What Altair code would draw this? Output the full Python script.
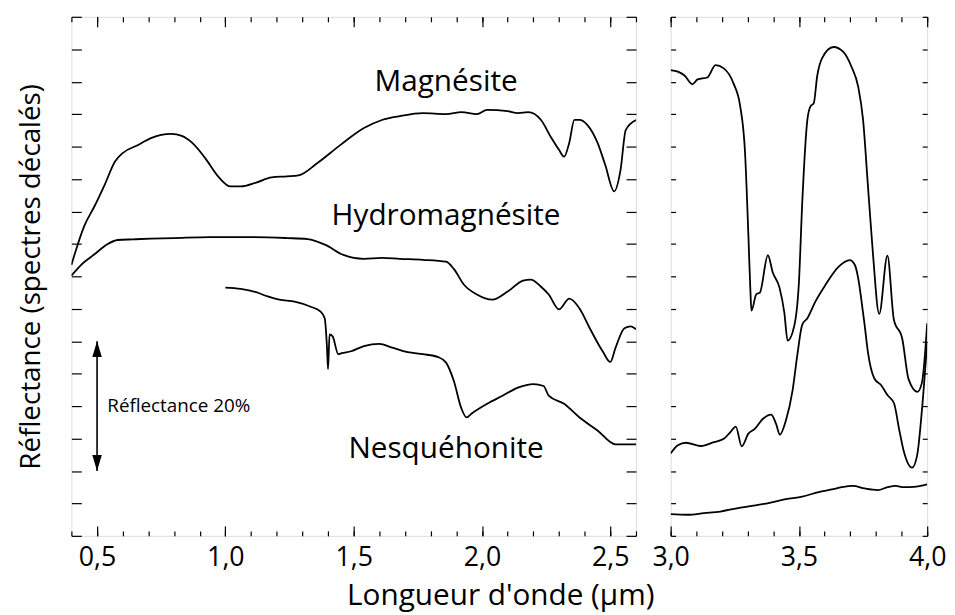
import altair as alt
import pandas as pd

# ---------------- data ----------------
# y is in "offset reflectance" units: one tick = 5 % reflectance
mag_left_x = [0.40, 0.45, 0.49, 0.53, 0.57, 0.60, 0.66, 0.71, 0.75, 0.79, 0.83, 0.87, 0.92, 0.975,
              1.02, 1.06, 1.12, 1.18, 1.24, 1.285, 1.36, 1.45, 1.54, 1.61, 1.68, 1.77, 1.86, 1.92,
              1.98, 2.02, 2.10, 2.14, 2.18, 2.23, 2.27, 2.30, 2.32, 2.34, 2.36, 2.38, 2.41, 2.45,
              2.48, 2.515, 2.54, 2.56, 2.60]
mag_left_y = [8.35, 9.55, 10.16, 10.83, 11.54, 11.80, 12.05, 12.26, 12.36, 12.39, 12.33, 12.12, 11.66,
              11.05, 10.77, 10.77, 10.89, 11.05, 11.08, 11.11, 11.50, 12.06, 12.57, 12.82, 12.94,
              13.03, 13.00, 13.06, 13.00, 13.13, 13.09, 13.03, 13.06, 12.82, 12.27, 11.90, 11.69,
              12.12, 12.82, 12.82, 12.67, 12.12, 11.44, 10.62, 11.29, 12.51, 12.82]

hyd_left_x = [0.40, 0.44, 0.49, 0.54, 0.58, 0.64, 0.71, 0.80, 0.94, 1.10, 1.24, 1.32, 1.39, 1.46,
              1.54, 1.61, 1.68, 1.77, 1.86, 1.89, 1.93, 1.98, 2.04, 2.10, 2.16, 2.19, 2.23, 2.26,
              2.30, 2.34, 2.38, 2.42, 2.47, 2.50, 2.52, 2.555, 2.58, 2.60]
hyd_left_y = [8.02, 8.37, 8.68, 8.99, 9.12, 9.14, 9.16, 9.18, 9.21, 9.21, 9.18, 9.15, 8.97, 8.66,
              8.54, 8.57, 8.54, 8.51, 8.45, 8.23, 7.74, 7.44, 7.28, 7.53, 7.87, 7.90, 7.68, 7.44,
              6.98, 7.31, 7.01, 6.40, 5.69, 5.36, 5.79, 6.40, 6.46, 6.37]

nes_left_x = [1.00, 1.06, 1.12, 1.165, 1.21, 1.27, 1.33, 1.37, 1.387, 1.396, 1.400, 1.406, 1.418,
              1.44, 1.453, 1.49, 1.54, 1.60, 1.65, 1.71, 1.77, 1.83, 1.86, 1.89, 1.92, 1.94, 1.96,
              2.02, 2.08, 2.14, 2.20, 2.24, 2.26, 2.32, 2.38, 2.45, 2.52, 2.60]
nes_left_y = [7.65, 7.61, 7.51, 7.38, 7.28, 7.22, 7.07, 6.92, 6.71, 5.80, 5.14, 6.21, 6.15, 5.60,
              5.63, 5.69, 5.85, 5.92, 5.80, 5.66, 5.60, 5.51, 5.34, 4.78, 3.92, 3.65, 3.77, 4.07,
              4.32, 4.57, 4.68, 4.62, 4.32, 4.07, 3.65, 3.25, 2.82, 2.82]

mag_right_x = [3.000, 3.028, 3.054, 3.085, 3.105, 3.143, 3.175, 3.207, 3.245, 3.271, 3.290, 3.303,
               3.311, 3.315, 3.334, 3.348, 3.379, 3.398, 3.424, 3.443, 3.456, 3.482, 3.500, 3.513,
               3.533, 3.545, 3.558, 3.571, 3.590, 3.635, 3.673, 3.705, 3.731, 3.750, 3.769, 3.788,
               3.813, 3.845, 3.870, 3.903, 3.927, 3.962, 3.980, 4.000]
mag_right_y = [14.36, 14.31, 14.19, 13.92, 14.07, 14.13, 14.51, 14.41, 13.95, 13.25, 11.81, 9.27,
               7.53, 6.94, 7.45, 7.50, 8.65, 8.12, 7.66, 6.89, 6.02, 6.48, 7.81, 10.28, 12.83, 13.24,
               13.34, 14.16, 14.72, 15.07, 14.92, 14.46, 13.85, 12.83, 10.79, 8.75, 6.84, 8.64, 6.67,
               6.07, 4.84, 4.44, 4.74, 6.55]

hyd_right_x = [3.000, 3.028, 3.060, 3.118, 3.169, 3.207, 3.233, 3.254, 3.277, 3.303, 3.328, 3.360,
               3.392, 3.411, 3.426, 3.449, 3.475, 3.494, 3.513, 3.533, 3.564, 3.603, 3.654, 3.698,
               3.718, 3.732, 3.743, 3.756, 3.769, 3.794, 3.820, 3.845, 3.871, 3.890, 3.909, 3.941,
               3.961, 3.980, 4.000]
hyd_right_y = [2.54, 2.79, 2.87, 2.77, 2.89, 2.99, 3.20, 3.37, 2.76, 3.15, 3.30, 3.61, 3.74, 3.45,
               3.12, 3.55, 4.47, 5.59, 6.51, 6.71, 7.22, 7.73, 8.29, 8.50, 8.35, 7.90, 7.30, 6.51,
               5.66, 4.85, 4.65, 4.34, 4.08, 3.31, 2.60, 2.10, 2.49, 3.92, 5.97]

nes_right_x = [3.000, 3.066, 3.130, 3.194, 3.258, 3.322, 3.386, 3.449, 3.513, 3.577, 3.628, 3.667,
               3.711, 3.756, 3.807, 3.846, 3.877, 3.909, 3.948, 4.000]
nes_right_y = [0.67, 0.65, 0.70, 0.75, 0.85, 0.93, 1.02, 1.13, 1.21, 1.35, 1.43, 1.50, 1.54, 1.46,
               1.41, 1.50, 1.54, 1.50, 1.51, 1.59]

# mineral names and their positions in the left panel
label_text = ["Magnésite", "Hydromagnésite", "Nesquéhonite"]
label_x = [1.86, 1.86, 1.86]
label_y = [14.0, 9.87, 2.66]

# scale bar (arrow) : 4 units = 20 % reflectance
bar_text = ["Réflectance 20%"]
bar_text_x = [0.54]
bar_text_y = [4.0]
arrow_x = [0.5]
arrow_y_low = [2.0]
arrow_y_high = [6.0]

left_major = [0.5, 1.0, 1.5, 2.0, 2.5]
left_minor = [round(0.4 + 0.1 * i, 1) for i in range(23)]
right_major = [3.0, 3.5, 4.0]
right_minor = [round(3.0 + 0.1 * i, 1) for i in range(11)]
y_ticks = list(range(0, 17))

# ---------------- tables ----------------
def serie(name, xs, ys):
    return pd.DataFrame({"x": xs, "y": ys, "serie": name, "ordre": list(range(len(xs)))})

left_df = pd.concat([serie("Magnésite", mag_left_x, mag_left_y),
                     serie("Hydromagnésite", hyd_left_x, hyd_left_y),
                     serie("Nesquéhonite", nes_left_x, nes_left_y)], ignore_index=True)
right_df = pd.concat([serie("Magnésite", mag_right_x, mag_right_y),
                      serie("Hydromagnésite", hyd_right_x, hyd_right_y),
                      serie("Nesquéhonite", nes_right_x, nes_right_y)], ignore_index=True)
labels_df = pd.DataFrame({"x": label_x, "y": label_y, "t": label_text})
bar_df = pd.DataFrame({"x": bar_text_x, "y": bar_text_y, "t": bar_text})
arrow_df = pd.DataFrame({"x": arrow_x, "y1": arrow_y_low, "y2": arrow_y_high})
head_up_df = pd.DataFrame({"x": arrow_x, "y": arrow_y_high})
head_dn_df = pd.DataFrame({"x": arrow_x, "y": arrow_y_low})

FONT = "Open Sans"
H = 524
W_LEFT = 570
W_RIGHT = 259

y_scale = alt.Scale(domain=[0, 16], nice=False, zero=False)
xl_scale = alt.Scale(domain=[0.4, 2.6], nice=False, zero=False)
xr_scale = alt.Scale(domain=[3.0, 4.0], nice=False, zero=False)

LABEL_EXPR = "replace(format(datum.value, '.1f'), '.', ',')"


def tick_axis(orient, values, size, **kw):
    return alt.Axis(orient=orient, values=values, tickSize=size, offset=-size, domain=False,
                    grid=False, ticks=True, tickColor="black", tickWidth=1.2, labels=False,
                    minExtent=0, title=None, **kw)


def label_axis(orient, values, size, **kw):
    return alt.Axis(orient=orient, values=values, tickSize=size, offset=-size, domain=False,
                    grid=False, ticks=True, tickColor="black", tickWidth=1.2, labels=True,
                    labelExpr=LABEL_EXPR, labelFont=FONT, labelFontSize=27, labelColor="black",
                    labelPadding=9, labelFlush=False, labelOverlap=False, minExtent=0, **kw)


def carrier(df, xscale, xaxis, yaxis):
    return alt.Chart(df).mark_line(opacity=0).encode(
        x=alt.X("x:Q", scale=xscale, axis=xaxis),
        y=alt.Y("y:Q", scale=y_scale, axis=yaxis),
        detail="serie:N")


# ---------------- left panel ----------------
left_lines = alt.Chart(left_df).mark_line(color="black", strokeWidth=1.8, clip=True,
                                          interpolate="monotone").encode(
    x=alt.X("x:Q", scale=xl_scale, axis=tick_axis("bottom", left_minor, 5)),
    y=alt.Y("y:Q", scale=y_scale,
            axis=alt.Axis(orient="left", values=y_ticks, tickSize=10, offset=-10, domain=False,
                          grid=False, ticks=True, tickColor="black", tickWidth=1.2, labels=False,
                          minExtent=0,
                          title="Réflectance (spectres décalés)", titleFont=FONT,
                          titleFontSize=28, titleFontWeight="normal", titleColor="black",
                          titlePadding=26)),
    detail="serie:N",
    order="ordre:Q")

left_c2 = carrier(left_df, xl_scale,
                  label_axis("bottom", left_major, 10, title="Longueur d'onde (µm)",
                             titleFont=FONT, titleFontSize=30, titleFontWeight="normal",
                             titleColor="black", titleX=433, titlePadding=10),
                  tick_axis("right", y_ticks, 10))
left_c3 = carrier(left_df, xl_scale, tick_axis("top", left_minor, 5), None)
left_c4 = carrier(left_df, xl_scale, tick_axis("top", left_major, 10), None)

names = alt.Chart(labels_df).mark_text(font=FONT, fontSize=30, color="black", align="center",
                                       baseline="middle").encode(
    x=alt.X("x:Q", scale=xl_scale, axis=None),
    y=alt.Y("y:Q", scale=y_scale, axis=None),
    text="t:N")

bar_label = alt.Chart(bar_df).mark_text(font=FONT, fontSize=19, color="black", align="left",
                                        baseline="middle").encode(
    x=alt.X("x:Q", scale=xl_scale, axis=None),
    y=alt.Y("y:Q", scale=y_scale, axis=None),
    text="t:N")

arrow = alt.Chart(arrow_df).mark_rule(color="black", strokeWidth=1.6).encode(
    x=alt.X("x:Q", scale=xl_scale, axis=None),
    y=alt.Y("y1:Q", scale=y_scale, axis=None),
    y2="y2:Q")

head_up = alt.Chart(head_up_df).mark_point(shape="M0,0L0.6,2L-0.6,2Z", size=256, filled=True,
                                           color="black", opacity=1).encode(
    x=alt.X("x:Q", scale=xl_scale, axis=None),
    y=alt.Y("y:Q", scale=y_scale, axis=None))
head_dn = alt.Chart(head_dn_df).mark_point(shape="M0,0L0.6,-2L-0.6,-2Z", size=256, filled=True,
                                           color="black", opacity=1).encode(
    x=alt.X("x:Q", scale=xl_scale, axis=None),
    y=alt.Y("y:Q", scale=y_scale, axis=None))

left = alt.layer(left_lines, left_c2, left_c3, left_c4, names, bar_label, arrow, head_up,
                 head_dn).resolve_axis(x="independent", y="independent").properties(
    width=W_LEFT, height=H)

# ---------------- right panel ----------------
right_lines = alt.Chart(right_df).mark_line(color="black", strokeWidth=1.8, clip=True,
                                            interpolate="monotone").encode(
    x=alt.X("x:Q", scale=xr_scale, axis=tick_axis("bottom", right_minor, 5)),
    y=alt.Y("y:Q", scale=y_scale, axis=tick_axis("left", y_ticks, 5)),
    detail="serie:N",
    order="ordre:Q")
right_c2 = carrier(right_df, xr_scale, label_axis("bottom", right_major, 10, title=None),
                   tick_axis("right", y_ticks, 5))
right_c3 = carrier(right_df, xr_scale, tick_axis("top", right_minor, 5), None)
right_c4 = carrier(right_df, xr_scale, tick_axis("top", right_major, 10), None)

right = alt.layer(right_lines, right_c2, right_c3, right_c4).resolve_axis(
    x="independent", y="independent").properties(width=W_RIGHT, height=H)

chart = alt.hconcat(left, right, spacing=35, bounds="flush").properties(
    padding={"left": 8, "top": 4, "right": 0, "bottom": 0}
).configure_view(stroke="black", strokeWidth=1.5).configure(background="white")

chart.save("out.html", embed_options={"renderer": "svg", "actions": False})
